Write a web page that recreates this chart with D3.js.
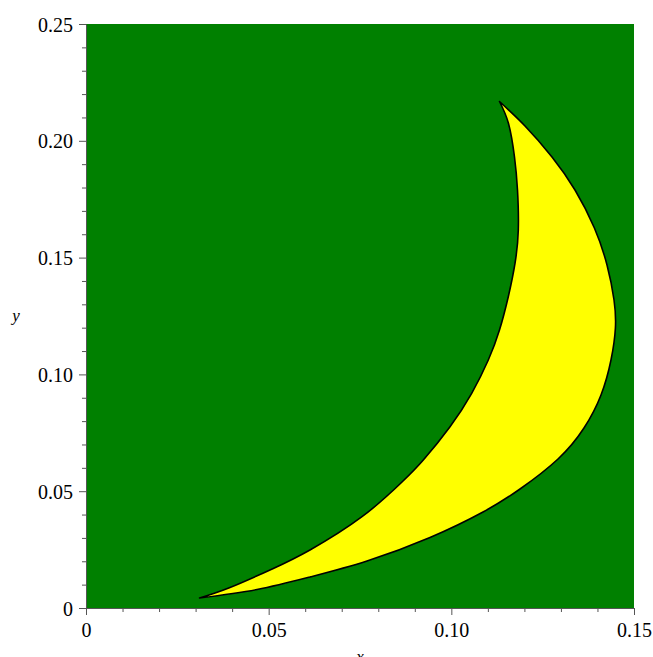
<!DOCTYPE html>
<html>
<head>
<meta charset="utf-8">
<script src="https://cdn.jsdelivr.net/npm/d3@7"></script>
<style>
body { margin: 0; background: #fff; }
svg { display: block; }
.tick text { font-family: "Liberation Serif", "DejaVu Serif", serif; font-size: 20px; fill: #000; }
.axis path, .axis line { stroke: #555; }
</style>
</head>
<body>
<div id="chart"></div>
<script>
//svg dimensions
var svgWidth = 653;
var svgHeight = 657;
var margin = {top: 24, right: 19, bottom: 49, left: 86};
var width = svgWidth - margin.left - margin.right;
var height = svgHeight - margin.top - margin.bottom;

//axis ranges and tick labels
var xDomain = [0, 0.15];
var yDomain = [0, 0.25];
var xMajorTicks = [0, 0.05, 0.10, 0.15];
var xTickLabels = ["0", "0.05", "0.10", "0.15"];
var yMajorTicks = [0, 0.05, 0.10, 0.15, 0.20, 0.25];
var yTickLabels = ["0", "0.05", "0.10", "0.15", "0.20", "0.25"];
var xMinorTicks = [0.01, 0.02, 0.03, 0.04, 0.06, 0.07, 0.08, 0.09, 0.11, 0.12, 0.13, 0.14];
var yMinorTicks = [0.01, 0.02, 0.03, 0.04, 0.06, 0.07, 0.08, 0.09, 0.11, 0.12, 0.13, 0.14,
    0.16, 0.17, 0.18, 0.19, 0.21, 0.22, 0.23, 0.24];

//outer boundary of the region, from top tip round to bottom tip
var outerX = [0.11318, 0.12016, 0.12755, 0.13385, 0.13916, 0.14261, 0.14453, 0.14491, 0.14370, 0.14097,
    0.13631, 0.12920, 0.11880, 0.10867, 0.09416, 0.07692, 0.06131, 0.04681, 0.03107];
var outerY = [0.21682, 0.20634, 0.19307, 0.17894, 0.16267, 0.14683, 0.13185, 0.11986, 0.10616, 0.09118,
    0.07705, 0.06378, 0.05094, 0.04110, 0.03018, 0.02012, 0.01327, 0.00792, 0.00428];
//inner boundary, from just after the bottom tip up to just before the top tip
var innerX = [0.03942, 0.05127, 0.06131, 0.07555, 0.08650, 0.09233, 0.09964, 0.10557, 0.11012, 0.11318,
    0.11559, 0.11743, 0.11833, 0.11811, 0.11729, 0.11565];
var innerY = [0.00878, 0.01691, 0.02483, 0.03908, 0.05394, 0.06336, 0.07761, 0.09191, 0.10616, 0.11901,
    0.13326, 0.14756, 0.16182, 0.17894, 0.19307, 0.20741];

var svg = d3.select("#chart").append("svg")
    .attr("width", svgWidth)
    .attr("height", svgHeight);
var chartGroup = svg.append("g")
    .attr("transform", `translate(${margin.left}, ${margin.top})`);

//scales
var xScale = d3.scaleLinear().domain(xDomain).range([0, width]);
var yScale = d3.scaleLinear().domain(yDomain).range([height, 0]);

//green background
chartGroup.append("rect")
    .attr("x", xScale(xDomain[0]))
    .attr("y", yScale(yDomain[1]))
    .attr("width", xScale(xDomain[1]) - xScale(xDomain[0]))
    .attr("height", yScale(yDomain[0]) - yScale(yDomain[1]))
    .attr("fill", "#008000");

//the two boundaries, joined at the tips
var outerPts = outerX.map((x, i) => [x, outerY[i]]);
var innerPts = innerX.map((x, i) => [x, innerY[i]]);
var topTip = outerPts[0];
var bottomTip = outerPts[outerPts.length - 1];
innerPts = [bottomTip].concat(innerPts, [topTip]);

var line = d3.line()
    .x(d => xScale(d[0]))
    .y(d => yScale(d[1]))
    .curve(d3.curveNatural);

var outlinePath = line(outerPts) + line(innerPts).replace(/^M[^CL]*/, "") + "Z";

chartGroup.append("path")
    .attr("d", outlinePath)
    .attr("fill", "#ffff00")
    .attr("stroke", "#000")
    .attr("stroke-width", 1.6)
    .attr("stroke-linejoin", "round");

//minor ticks
chartGroup.append("g")
    .attr("class", "axis")
    .attr("transform", `translate(0, ${height})`)
    .call(d3.axisBottom(xScale).tickValues(xMinorTicks).tickSize(4).tickFormat(""))
    .call(g => g.select(".domain").remove());
chartGroup.append("g")
    .attr("class", "axis")
    .call(d3.axisLeft(yScale).tickValues(yMinorTicks).tickSize(4).tickFormat(""))
    .call(g => g.select(".domain").remove());

//major axes
chartGroup.append("g")
    .attr("class", "axis")
    .attr("transform", `translate(0, ${height})`)
    .call(d3.axisBottom(xScale).tickValues(xMajorTicks).tickSizeInner(7).tickSizeOuter(0)
        .tickPadding(8).tickFormat((d, i) => xTickLabels[i]));
chartGroup.append("g")
    .attr("class", "axis")
    .call(d3.axisLeft(yScale).tickValues(yMajorTicks).tickSizeInner(7).tickSizeOuter(0)
        .tickPadding(6).tickFormat((d, i) => yTickLabels[i]))
    .selectAll(".tick text").attr("dy", "0.35em");

//axis titles (x sits at the bottom edge, partly cut as in the original)
svg.append("text")
    .attr("x", margin.left + width / 2)
    .attr("y", svgHeight + 5)
    .attr("text-anchor", "middle")
    .attr("font-family", "Liberation Serif, serif")
    .attr("font-style", "italic")
    .attr("font-size", "17px")
    .text("x");
svg.append("text")
    .attr("x", 16)
    .attr("y", 321)
    .attr("text-anchor", "middle")
    .attr("font-family", "Liberation Serif, serif")
    .attr("font-style", "italic")
    .attr("font-size", "17px")
    .text("y");
</script>
</body>
</html>
